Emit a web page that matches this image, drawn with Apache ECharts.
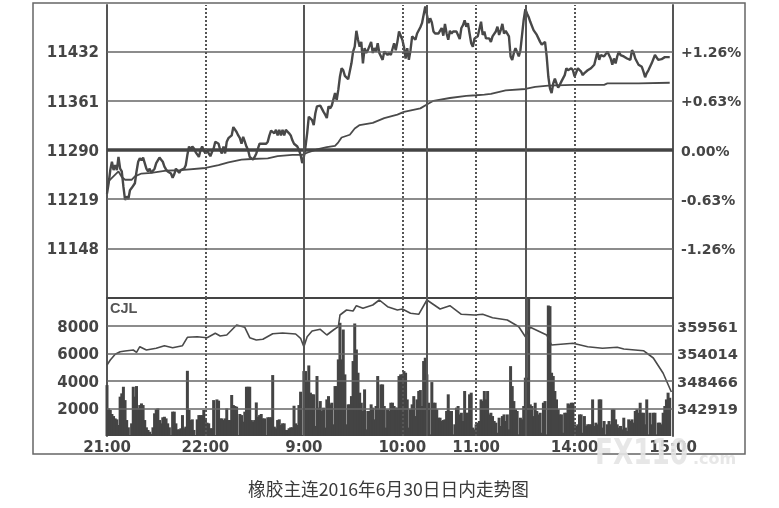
<!DOCTYPE html>
<html><head><meta charset="utf-8">
<style>html,body{margin:0;padding:0;background:#fff}#c{width:779px;height:508px}</style>
<script src="https://cdn.jsdelivr.net/npm/echarts@6/dist/echarts.min.js"></script>
</head><body><div id="c"></div>
<script>
// minutes since the 21:00 open (trading minutes only)
const timeTicks = [0,60,120,180,225,285,345];
const timeLabels = ['21:00','22:00','9:00','10:00','11:00','14:00','15:00'];
const solidTimes = [120,195,255];
const dottedTimes = [60,180,225,285];

const priceTicks = [11148,11219,11290,11361,11432];
const pctLabels = ['-1.26%','-0.63%','0.00%','+0.63%','+1.26%'];
const volTicks = [2000,4000,6000,8000];
const oiTicks = [342919,348466,354014,359561];

const price = [
11227,11242,11261,11273,11261,11268,11261,11280,11263,11259,
11237,11218,11223,11219,11232,11235,11236,11242,11259,11273,
11278,11275,11279,11278,11263,11259,11263,11257,11259,11263,
11271,11275,11279,11276,11273,11266,11262,11259,11261,11256,
11250,11255,11263,11260,11257,11261,11259,11263,11268,11283,
11295,11290,11295,11292,11287,11285,11280,11290,11295,11289,
11285,11289,11285,11281,11287,11292,11302,11304,11299,11290,
11285,11295,11285,11302,11307,11307,11311,11323,11324,11316,
11311,11307,11299,11309,11302,11295,11290,11280,11280,11276,
11280,11285,11292,11299,11297,11299,11297,11299,11302,11311,
11318,11320,11314,11319,11311,11319,11311,11319,11311,11319,
11320,11314,11311,11304,11299,11299,11295,11290,11283,11271,
11280,11295,11314,11338,11338,11333,11326,11343,11353,11354,
11354,11353,11345,11341,11336,11353,11350,11354,11353,11372,
11362,11377,11396,11408,11405,11397,11395,11392,11390,11415,
11432,11439,11462,11449,11439,11446,11415,11437,11430,11434,
11432,11446,11430,11437,11432,11444,11430,11432,11420,11432,
11430,11427,11430,11427,11425,11444,11434,11446,11461,11463,
11449,11439,11422,11437,11420,11434,11454,11456,11449,11458,
11456,11467,11473,11475,11497,11485,11473,11480,11474,11461,
11458,11459,11458,11456,11466,11455,11472,11458,11449,11462,
11458,11461,11459,11461,11462,11450,11466,11470,11477,11468,
11473,11458,11444,11439,11451,11449,11454,11456,11475,11456,
11461,11451,11450,11451,11446,11454,11456,11461,11468,11456,
11463,11472,11458,11462,11461,11454,11425,11420,11430,11437,
11437,11425,11434,11434,11478,11493,11487,11482,11475,11473,
11463,11461,11456,11454,11446,11442,11444,11446,11425,11396,
11379,11372,11386,11393,11386,11380,11384,11389,11389,11398,
11408,11405,11403,11408,11405,11396,11398,11408,11408,11403,
11398,11401,11403,11405,11403,11408,11410,11413,11413,11432,
11420,11427,11427,11425,11427,11432,11432,11422,11413,11422,
11415,11425,11432,11427,11427,11425,11427,11422,11422,11420,
11434,11430,11422,11420,11413,11415,11410,11403,11395,11401,
11405,11410,11415,11413,11427,11425,11420,11422,11421,11422,
11424,11423,11424,11424];

const avgMinutes = [0,1,7,9,11,15,17,21,27,35,45,60,68,74,82,88,98,104,113,119,122,128,134,139,141,143,148,151,154,162,169,177,181,191,196,199,209,219,225,230,234,243,255,261,269,284,303,305,324,325,343];
const avgValues = [11232,11245,11259,11251,11247,11247,11252,11256,11257,11260,11261,11264,11268,11272,11276,11277,11278,11281,11283,11283,11286,11291,11294,11296,11301,11308,11312,11321,11326,11329,11336,11341,11345,11350,11357,11361,11365,11368,11369,11370,11371,11376,11378,11381,11383,11384,11384,11386,11386,11387,11387];

const volume = [
3700,2010,1890,1600,1450,1280,1210,800,2860,3100,
3580,2610,1160,630,70,920,3580,2860,3630,2010,
2250,2370,2250,1160,630,440,310,150,630,1650,
1940,2010,1160,920,1360,1400,1280,920,630,70,
1770,1770,920,480,480,560,1520,560,680,4740,
1890,1160,1210,440,70,1210,1520,1520,1520,1890,
1280,970,920,560,560,2610,70,2660,2570,1280,
1280,1160,1280,2010,1160,1160,2980,2250,2180,2130,
70,1600,1520,1040,1770,3580,3580,3580,1160,1040,
1160,2440,1400,1520,1600,1280,1280,70,1360,1360,
1360,4430,680,560,1160,1210,800,920,920,440,
440,560,630,630,2200,920,800,2250,3220,70,
4720,4720,3990,5130,3150,3030,3030,730,4360,2060,
2540,1820,2060,610,2660,2900,2300,2420,850,3630,
3630,5570,8230,5570,7740,4480,850,2300,2300,2900,
5450,8180,6290,4600,3150,2420,1820,3390,480,1820,
1820,2300,2060,1210,2180,4360,1940,3750,3750,2180,
610,1940,1820,2420,2420,2180,2060,2060,4360,4480,
4480,4720,4600,2660,610,1940,2300,2900,1450,2660,
3270,3340,2180,5450,5690,4480,2420,120,3920,2420,
2420,1940,1330,1330,1090,1160,1210,1820,3030,1820,
1820,120,850,2060,2180,1570,1690,1090,3270,1690,
1690,3030,3150,610,480,850,970,1090,2660,2540,
3270,2660,3270,1570,1690,1450,1090,970,240,1330,
730,1450,1570,1090,1570,480,5080,3630,2540,1940,
1820,120,1330,1210,2180,4240,4240,10200,2300,2180,
1450,2420,1820,1570,1690,240,2420,2540,120,9490,
9440,4600,4360,3270,2660,1940,1570,1570,240,1690,
1690,2370,2300,2420,2420,850,730,850,1570,1570,
240,1450,730,850,850,850,2660,730,970,850,
2660,2660,610,1090,120,850,1090,850,1940,1940,
1210,850,610,730,480,1330,610,360,1210,1090,
1210,970,1820,1940,1690,2420,1690,1690,850,2660,
120,1690,850,1690,1690,120,970,970,850,1690,
2180,2660,3150,2780];

const oiMinutes = [0,2,5,8,11,16,18,20,24,30,35,40,46,49,55,61,66,69,73,79,84,87,91,95,101,107,115,118,120,122,125,130,134,138,141,142,146,150,152,156,162,166,171,177,180,185,190,195,203,209,216,224,229,235,244,251,255,258,268,271,284,293,302,311,315,327,333,339,343,344];
const oiValues = [351695,352703,353853,354377,354518,354720,354256,355386,354720,355063,355588,355184,355588,357282,357403,357201,358089,357544,357746,359763,359299,357201,356737,356878,358008,358149,357947,357080,355386,357403,358552,358895,357746,358754,359420,361780,362788,362587,363656,363131,363797,364805,363454,362788,362990,362123,361921,364805,362990,363656,361921,361780,361921,361235,360771,359420,357403,359299,357746,355729,356072,355386,355063,355265,354922,354579,353107,350021,346995,346249];

const C = '#454545', F = 'DejaVu Sans';
const pair = (xs, ys) => ys.map((v, i) => [xs ? xs[i] : i, v]);
const vLines = [
  ...solidTimes.map(t => ({xAxis: t, lineStyle: {type: 'solid', width: 2, color: '#555'}})),
  ...dottedTimes.map(t => ({xAxis: t, lineStyle: {type: [2, 2], width: 2, color: '#555'}}))
];
const mark = (hs, zero) => ({
  silent: true, symbol: 'none', animation: false, label: {show: false},
  emphasis: {disabled: true},
  data: [...hs.map(v => ({yAxis: v, lineStyle: {type: 'solid', width: v === zero ? 3.5 : 1.5, color: v === zero ? '#444' : '#666'}})), ...vLines]
});
const xBase = {type: 'value', min: 0, max: 345, splitLine: {show: false}, axisTick: {show: false}};
const yBase = (grid, pos, min, max, ticks, fmt, size, margin) => ({
  type: 'value', gridIndex: grid, position: pos, min, max, scale: true,
  splitLine: {show: false}, axisTick: {show: false},
  axisLine: {show: true, onZero: false, lineStyle: {color: '#555', width: 2}},
  axisLabel: {customValues: ticks, formatter: v => '{a|' + fmt(v) + '}', margin, color: C, fontFamily: F, fontWeight: 'bold', fontSize: size,
    rich: {a: {color: C, fontFamily: F, fontWeight: 'bold', fontSize: size, padding: [4, 0, 0, 0]}}}
});
const chart = echarts.init(document.getElementById('c'), null, {renderer: 'canvas'});
chart.setOption({
  animation: false, backgroundColor: '#fff',
  grid: [
    {left: 107, right: 106, top: 5, height: 293},
    {left: 107, right: 106, top: 298, height: 138}
  ],
  xAxis: [
    {...xBase, gridIndex: 0, axisLabel: {show: false},
     axisLine: {show: true, onZero: false, lineStyle: {color: '#444', width: 2}}},
    {...xBase, gridIndex: 1, axisLine: {show: false},
     axisLabel: {customValues: timeTicks, formatter: v => timeLabels[timeTicks.indexOf(v)],
       color: C, fontFamily: F, fontWeight: 'bold', fontSize: 15, margin: 5, showMinLabel: true, showMaxLabel: true, hideOverlap: false}}
  ],
  yAxis: [
    yBase(0, 'left', 11076.4, 11499.2, priceTicks, v => String(v), 15, 8),
    yBase(0, 'right', 11076.4, 11499.2, priceTicks, v => pctLabels[priceTicks.indexOf(v)], 14, 8),
    yBase(1, 'left', 0, 10033, volTicks, v => String(v), 15, 8),
    yBase(1, 'right', 337372, 365209, oiTicks, v => String(v), 14.6, 4)
  ],
  series: [
    {type: 'line', name: 'avg', xAxisIndex: 0, yAxisIndex: 0, z: 2, data: pair(avgMinutes, avgValues),
     showSymbol: false, lineStyle: {color: '#4a4a4a', width: 1.8}, markLine: mark(priceTicks, 11290)},
    {type: 'line', name: 'price', xAxisIndex: 0, yAxisIndex: 0, z: 3, data: pair(null, price),
     showSymbol: false, lineStyle: {color: '#484848', width: 2.4}},
    {type: 'bar', name: 'volume', xAxisIndex: 1, yAxisIndex: 2, z: 2, data: pair(null, volume),
     barWidth: 3, itemStyle: {color: '#444'}, markLine: mark(volTicks, null)},
    {type: 'line', name: 'oi', xAxisIndex: 1, yAxisIndex: 3, z: 3, data: pair(oiMinutes, oiValues),
     showSymbol: false, lineStyle: {color: '#4a4a4a', width: 1.6}}
  ],
  graphic: [
    {type: 'rect', z: 50, silent: true, shape: {x: 33, y: 3, width: 712, height: 451},
     style: {fill: 'none', stroke: '#666', lineWidth: 1.5}},
    {type: 'text', z: 50, silent: true, x: 110, y: 301, style: {text: 'CJL', fill: '#555', font: 'bold 14.5px "Liberation Sans"'}},
    {type: 'text', z: 60, silent: true, x: 388.5, y: 480, style: {text: '橡胶主连2016年6月30日日内走势图', fill: '#3a3a3a', align: 'center', font: '17.7px "Noto Sans CJK SC"'}},
    {type: 'text', z: 60, silent: true, x: 595, y: 437, scaleX: 0.73, style: {text: 'FX110', fill: 'rgba(228,228,228,0.9)', font: 'bold 36px "DejaVu Sans"'}},
    {type: 'text', z: 60, silent: true, x: 693, y: 452, style: {text: '.com', fill: 'rgba(228,228,228,0.9)', font: 'bold 16px "DejaVu Sans"'}}
  ]
});
</script></body></html>
